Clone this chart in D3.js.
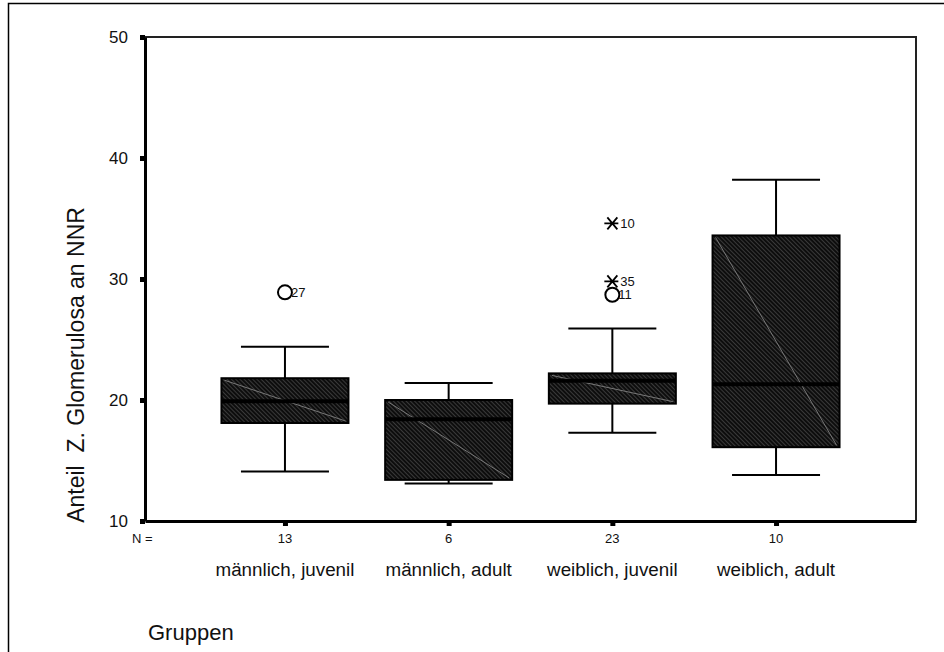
<!DOCTYPE html>
<html>
<head>
<meta charset="utf-8">
<script src="https://cdn.jsdelivr.net/npm/d3@7"></script>
<style>
  body { margin: 0; background: #fff; }
  svg { display: block; font-family: "Liberation Sans", Arial, sans-serif; }
</style>
</head>
<body>
<div id="chart"></div>
<script>
// Box plot data
const groups = ['männlich, juvenil', 'männlich, adult', 'weiblich, juvenil', 'weiblich, adult'];
const counts = [13, 6, 23, 10];
const whiskerLow = [14.1, 13.1, 17.3, 13.8];
const q1 = [18.1, 13.4, 19.7, 16.1];
const median = [19.9, 18.4, 21.6, 21.3];
const q3 = [21.8, 20.0, 22.2, 33.6];
const whiskerHigh = [24.4, 21.4, 25.9, 38.2];

// outliers: group index, value, case label, kind (o = outlier, x = extreme)
const outlierGroup = [0, 2, 2, 2];
const outlierValue = [28.9, 34.6, 29.8, 28.7];
const outlierLabel = ['27', '10', '35', '11'];
const outlierKind = ['o', 'x', 'x', 'o'];

const yTicks = [10, 20, 30, 40, 50];

const W = 944, H = 652;
const plot = { left: 145, right: 916, top: 37, bottom: 521 };

const svg = d3.select('#chart').append('svg')
  .attr('width', W)
  .attr('height', H);

// hatch fill for the boxes
const defs = svg.append('defs');
const pat = defs.append('pattern')
  .attr('id', 'hatch')
  .attr('patternUnits', 'userSpaceOnUse')
  .attr('width', 3)
  .attr('height', 3)
  .attr('patternTransform', 'rotate(-45)');
pat.append('rect').attr('width', 3).attr('height', 3).attr('fill', '#0d0d0d');
pat.append('line')
  .attr('x1', 0).attr('y1', 0).attr('x2', 0).attr('y2', 3)
  .attr('stroke', '#5e5e5e').attr('stroke-width', 1.1);

// outer frame
svg.append('rect')
  .attr('x', 8.5).attr('y', 3.5)
  .attr('width', W + 20).attr('height', H + 20)
  .attr('fill', 'none').attr('stroke', '#000').attr('stroke-width', 1.5);

const y = d3.scaleLinear().domain([10, 50]).range([plot.bottom, plot.top]);
const x = d3.scalePoint().domain(groups).range([plot.left, plot.right]).padding(0.855);

const boxW = 127, capW = 88;

// plot frame (top + right)
svg.append('path')
  .attr('d', `M${plot.left},${plot.top}H${plot.right}V${plot.bottom}`)
  .attr('fill', 'none').attr('stroke', '#222').attr('stroke-width', 2);

// y axis
const yAxis = svg.append('g').attr('transform', `translate(${plot.left},0)`)
  .call(d3.axisLeft(y).tickValues(yTicks).tickSize(0).tickPadding(17));
yAxis.select('.domain').attr('stroke', '#000').attr('stroke-width', 3);
yAxis.selectAll('text').attr('font-size', 17).attr('fill', '#111')
  .attr('font-family', '"Liberation Sans", Arial, sans-serif');
yAxis.selectAll('.tick').append('rect')
  .attr('x', -5).attr('y', -2.5).attr('width', 5).attr('height', 5).attr('fill', '#000');

// x axis
const xAxis = svg.append('g').attr('transform', `translate(0,${plot.bottom})`)
  .call(d3.axisBottom(x).tickSize(0).tickFormat(''));
xAxis.select('.domain').attr('stroke', '#000').attr('stroke-width', 3);
xAxis.selectAll('.tick').append('rect')
  .attr('x', -2.5).attr('y', 0).attr('width', 5).attr('height', 5).attr('fill', '#000');

// N row and category labels
svg.append('text').attr('x', 132).attr('y', 543)
  .attr('font-size', 13).attr('fill', '#111').text('N =');
svg.selectAll('.nlabel').data(groups).join('text')
  .attr('class', 'nlabel')
  .attr('x', d => x(d)).attr('y', 543)
  .attr('text-anchor', 'middle').attr('font-size', 13).attr('fill', '#111')
  .text((d, i) => counts[i]);
svg.selectAll('.glabel').data(groups).join('text')
  .attr('class', 'glabel')
  .attr('x', d => x(d)).attr('y', 576)
  .attr('text-anchor', 'middle').attr('font-size', 18.8).attr('fill', '#111')
  .text(d => d);

// axis titles
svg.append('text')
  .attr('transform', 'translate(84,365) rotate(-90)')
  .attr('text-anchor', 'middle').attr('font-size', 23).attr('fill', '#111')
  .style('white-space', 'pre')
  .text('Anteil  Z. Glomerulosa an NNR');
svg.append('text').attr('x', 148).attr('y', 640)
  .attr('font-size', 22).attr('fill', '#111').text('Gruppen');

// boxes
const boxes = svg.append('g').selectAll('g').data(groups).join('g');

boxes.append('line')
  .attr('x1', d => x(d)).attr('x2', d => x(d))
  .attr('y1', (d, i) => y(whiskerHigh[i])).attr('y2', (d, i) => y(whiskerLow[i]))
  .attr('stroke', '#000').attr('stroke-width', 2);
boxes.append('line')
  .attr('x1', d => x(d) - capW / 2).attr('x2', d => x(d) + capW / 2)
  .attr('y1', (d, i) => y(whiskerHigh[i])).attr('y2', (d, i) => y(whiskerHigh[i]))
  .attr('stroke', '#000').attr('stroke-width', 2);
boxes.append('line')
  .attr('x1', d => x(d) - capW / 2).attr('x2', d => x(d) + capW / 2)
  .attr('y1', (d, i) => y(whiskerLow[i])).attr('y2', (d, i) => y(whiskerLow[i]))
  .attr('stroke', '#000').attr('stroke-width', 2);

boxes.append('rect')
  .attr('x', d => x(d) - boxW / 2)
  .attr('y', (d, i) => y(q3[i]))
  .attr('width', boxW)
  .attr('height', (d, i) => y(q1[i]) - y(q3[i]))
  .attr('fill', 'url(#hatch)')
  .attr('stroke', '#000').attr('stroke-width', 2);

// faint diagonal seen across each box
boxes.append('line')
  .attr('x1', d => x(d) - boxW / 2 + 3).attr('y1', (d, i) => y(q3[i]) + 2)
  .attr('x2', d => x(d) + boxW / 2 - 3).attr('y2', (d, i) => y(q1[i]) - 2)
  .attr('stroke', '#777').attr('stroke-width', 1);

boxes.append('line')
  .attr('x1', d => x(d) - boxW / 2).attr('x2', d => x(d) + boxW / 2)
  .attr('y1', (d, i) => y(median[i])).attr('y2', (d, i) => y(median[i]))
  .attr('stroke', '#000').attr('stroke-width', 4);

// outliers
const out = svg.append('g').selectAll('g').data(outlierValue).join('g')
  .attr('transform', (v, i) => `translate(${x(groups[outlierGroup[i]])},${y(v)})`);

out.filter((v, i) => outlierKind[i] === 'o').append('circle')
  .attr('r', 7).attr('fill', 'none').attr('stroke', '#000').attr('stroke-width', 2);
out.filter((v, i) => outlierKind[i] === 'x').append('path')
  .attr('d', 'M-5,-6L5,6M-5,6L5,-6M-8,0H6')
  .attr('fill', 'none').attr('stroke', '#000').attr('stroke-width', 1.8);
out.append('text')
  .attr('x', (v, i) => outlierKind[i] === 'o' ? 6 : 8)
  .attr('y', 4.5)
  .attr('font-size', 13).attr('fill', '#111')
  .text((v, i) => outlierLabel[i]);
</script>
</body>
</html>
